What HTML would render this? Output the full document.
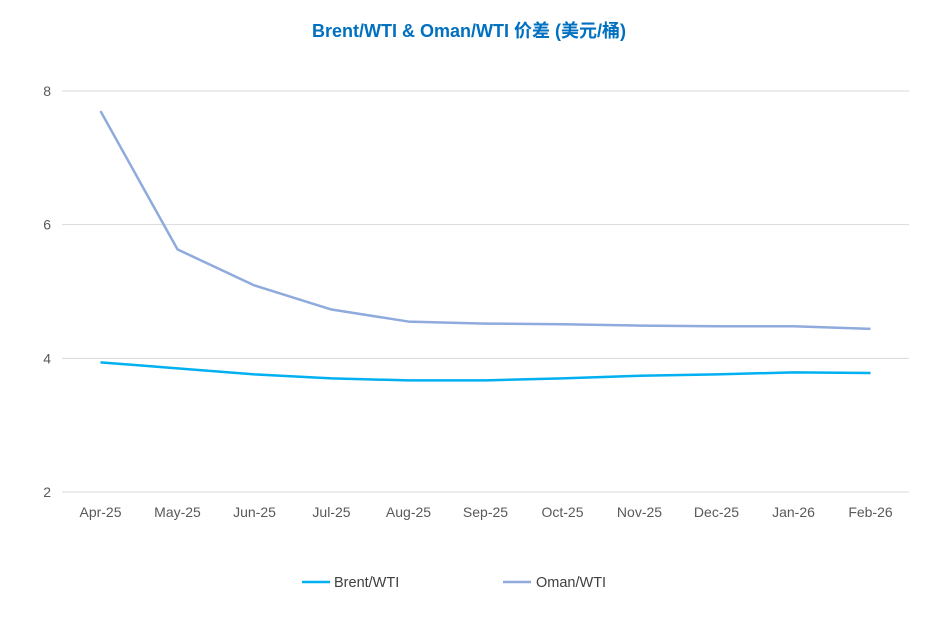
<!DOCTYPE html>
<html><head><meta charset="utf-8"><style>
html,body{margin:0;padding:0;background:#fff;}
svg{display:block;font-family:"Liberation Sans","Noto Sans CJK SC",sans-serif;}
</style></head><body>
<svg id="chart" width="937" height="634">
<text x="469" y="37" text-anchor="middle" font-size="18" font-weight="bold" fill="#0070C0">Brent/WTI &amp; Oman/WTI 价差 (美元/桶)</text>
<g id="grid"></g><g id="series"></g><g id="labels"></g>
<g>
<g><line x1="302" y1="582" x2="330" y2="582" stroke="#00B0F0" stroke-width="2.5"/><text x="334" y="587" font-size="14.5" fill="#404040">Brent/WTI</text></g>
<g><line x1="503" y1="582" x2="531" y2="582" stroke="#8FAADC" stroke-width="2.5"/><text x="536" y="587" font-size="14.5" fill="#404040">Oman/WTI</text></g>
</g>
</svg>
<script>
const categories=["Apr-25","May-25","Jun-25","Jul-25","Aug-25","Sep-25","Oct-25","Nov-25","Dec-25","Jan-26","Feb-26"];
const brentWti=[3.94,3.85,3.76,3.70,3.67,3.67,3.70,3.74,3.76,3.79,3.78];
const omanWti=[7.70,5.63,5.09,4.73,4.55,4.52,4.51,4.49,4.48,4.48,4.44];
const yTicks=[2,4,6,8];
const NS="http://www.w3.org/2000/svg";
const x0=62,band=77,yMin=2,yMax=8,yTop=91,yBot=492;
function xs(i){return x0+band*(i+0.5);}
function ys(v){return yBot-(v-yMin)/(yMax-yMin)*(yBot-yTop);}
function mk(t,a,p){const e=document.createElementNS(NS,t);for(const k in a)e.setAttribute(k,a[k]);p.appendChild(e);return e;}
const grid=document.getElementById('grid'),lab=document.getElementById('labels'),ser=document.getElementById('series');
yTicks.forEach(v=>{
 const l=mk('line',{x1:x0,x2:x0+band*categories.length,y1:ys(v),y2:ys(v),stroke:'#D9D9D9','stroke-width':1},grid);
 
 
 const t=mk('text',{x:51,y:ys(v)+5,'text-anchor':'end','font-size':14,fill:'#595959'},lab);t.textContent=v;
 
 
});
categories.forEach((c,i)=>{
 const t=mk('text',{x:xs(i),y:517,'text-anchor':'middle','font-size':14,fill:'#595959'},lab);t.textContent=c;
 
 
});
function line(vals,color,name){
 const p=mk('polyline',{points:vals.map((v,i)=>xs(i)+','+ys(v)).join(' '),fill:'none',stroke:color,'stroke-width':2.5,'stroke-linejoin':'round'},ser);
 
 
}
line(omanWti,'#8FAADC','oman-wti-line');
line(brentWti,'#00B0F0','brent-wti-line');
</script>
</body></html>
